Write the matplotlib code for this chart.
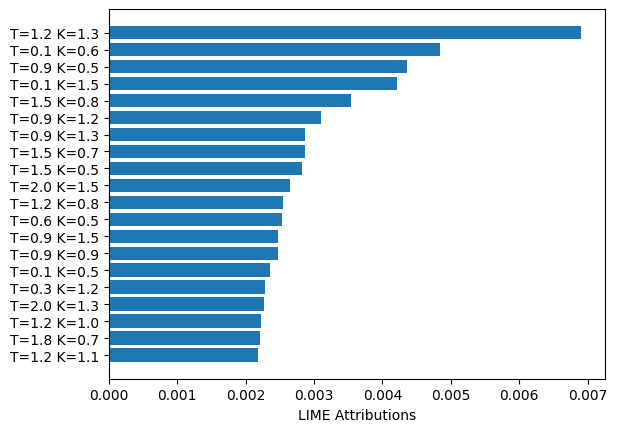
import numpy as np
import matplotlib.pyplot as plt

# Feature labels, sorted from largest to smallest attribution
labels = ['T=1.2 K=1.3', 'T=0.1 K=0.6', 'T=0.9 K=0.5', 'T=0.1 K=1.5', 'T=1.5 K=0.8',
          'T=0.9 K=1.2', 'T=0.9 K=1.3', 'T=1.5 K=0.7', 'T=1.5 K=0.5', 'T=2.0 K=1.5',
          'T=1.2 K=0.8', 'T=0.6 K=0.5', 'T=0.9 K=1.5', 'T=0.9 K=0.9', 'T=0.1 K=0.5',
          'T=0.3 K=1.2', 'T=2.0 K=1.3', 'T=1.2 K=1.0', 'T=1.8 K=0.7', 'T=1.2 K=1.1']

attributions = [0.006908, 0.004843, 0.004360, 0.004213, 0.003539,
                0.003100, 0.002866, 0.002866, 0.002822, 0.002646,
                0.002544, 0.002529, 0.002470, 0.002470, 0.002353,
                0.002280, 0.002265, 0.002221, 0.002207, 0.002177]

# Plot smallest at the bottom
plt.barh(labels[::-1], attributions[::-1])
plt.xlabel('LIME Attributions')
plt.savefig('out.png', bbox_inches='tight')
